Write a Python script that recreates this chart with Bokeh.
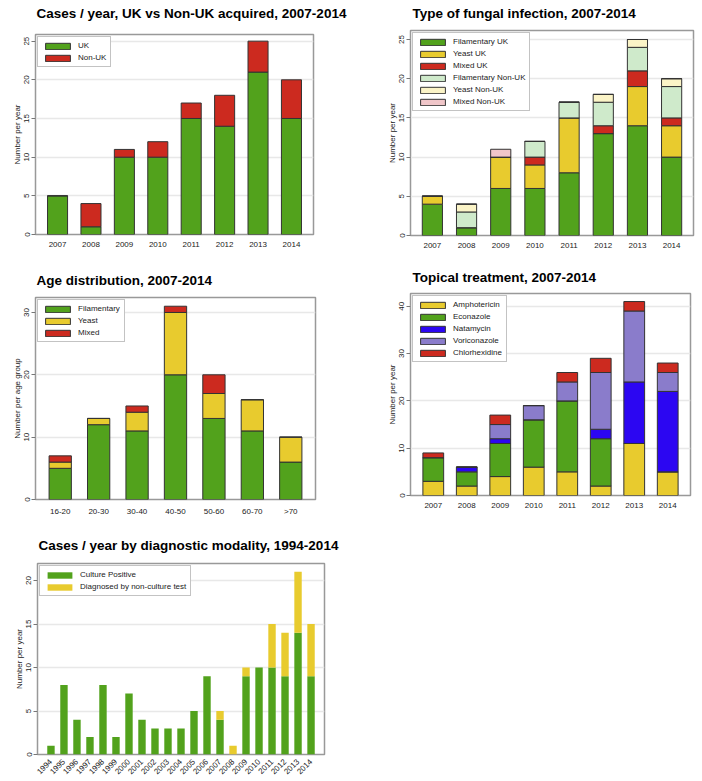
import math
from bokeh.plotting import figure
from bokeh.models import ColumnDataSource, FactorRange, Range1d, SingleIntervalTicker, Title
from bokeh.layouts import column, row
from bokeh.embed import file_html
from bokeh.resources import INLINE

FONT = "Liberation Sans"

# ---------------- data ----------------
years = ["2007", "2008", "2009", "2010", "2011", "2012", "2013", "2014"]

# Panel 1: UK vs Non-UK acquired
uk = [5, 1, 10, 10, 15, 14, 21, 15]
non_uk = [0, 3, 1, 2, 2, 4, 4, 5]

# Panel 2: type of fungal infection
fil_uk = [4, 1, 6, 6, 8, 13, 14, 10]
yeast_uk = [1, 0, 4, 3, 7, 0, 5, 4]
mixed_uk = [0, 0, 0, 1, 0, 1, 2, 1]
fil_non = [0, 2, 0, 2, 2, 3, 3, 4]
yeast_non = [0, 1, 0, 0, 0, 1, 1, 1]
mixed_non = [0, 0, 1, 0, 0, 0, 0, 0]

# Panel 3: age distribution
age_groups = ["16-20", "20-30", "30-40", "40-50", "50-60", "60-70", ">70"]
age_fil = [5, 12, 11, 20, 13, 11, 6]
age_yeast = [1, 1, 3, 10, 4, 5, 4]
age_mixed = [1, 0, 1, 1, 3, 0, 0]

# Panel 4: topical treatment
ampho = [3, 2, 4, 6, 5, 2, 11, 5]
econ = [5, 3, 7, 10, 15, 10, 0, 0]
natam = [0, 1, 1, 0, 0, 2, 13, 17]
vori = [0, 0, 3, 3, 4, 12, 15, 4]
chlor = [1, 0, 2, 0, 2, 3, 2, 2]

# Panel 5: diagnostic modality
years_long = [str(y) for y in range(1994, 2015)]
culture_pos = [1, 8, 4, 2, 8, 2, 7, 4, 3, 3, 3, 5, 9, 4, 0, 9, 10, 10, 9, 14, 9]
non_culture = [0, 0, 0, 0, 0, 0, 0, 0, 0, 0, 0, 0, 0, 1, 1, 1, 0, 5, 5, 7, 6]

# ---------------- colours ----------------
GREEN = "#52a21c"
RED = "#cc2a1f"
YELLOW = "#e8cb2e"
LGREEN = "#cfeacb"
LYELLOW = "#fbf4c7"
PINK = "#f0c6c9"
BLUE = "#2c06f2"
PURPLE = "#8a7ccb"
EDGE = "#333333"


def make_fig(title, factors, ymax, interval, fw, fh, borders, ylabel, pad, gap, offset):
    l, r, t, b = borders
    p = figure(frame_width=fw, frame_height=fh, title=title,
               x_range=FactorRange(*factors, range_padding=pad),
               y_range=Range1d(0, ymax),
               output_backend="svg", toolbar_location=None,
               min_border_left=l, min_border_right=r,
               min_border_top=t, min_border_bottom=b,
               background_fill_color="white", border_fill_color="white")
    # thin spacer between the frame and the title
    p.add_layout(Title(text=" ", text_font_size="1px", standoff=gap), "above")
    p.title.text_font = FONT
    p.title.text_font_size = "13.5px"
    p.title.text_font_style = "bold"
    p.title.text_color = "black"
    p.title.align = "left"
    p.title.vertical_align = "top"
    p.title.standoff = 0
    p.title.offset = offset

    p.outline_line_color = "#999999"
    p.outline_line_width = 1.5

    p.xgrid.grid_line_color = None
    p.ygrid.grid_line_color = "#e8e8e8"
    p.ygrid.grid_line_width = 1.5

    p.yaxis.ticker = SingleIntervalTicker(interval=interval, num_minor_ticks=0)
    p.yaxis.major_label_orientation = "vertical"
    p.yaxis.axis_line_color = None
    p.yaxis.minor_tick_line_color = None
    p.yaxis.major_tick_out = 4
    p.yaxis.major_tick_in = 0
    p.yaxis.major_tick_line_color = "#777777"
    p.yaxis.major_label_standoff = 2
    p.yaxis.major_label_text_font = FONT
    p.yaxis.major_label_text_font_size = "8px"
    p.yaxis.major_label_text_color = "#222222"
    p.yaxis.axis_label = ylabel
    p.yaxis.axis_label_text_font = FONT
    p.yaxis.axis_label_text_font_size = "8px"
    p.yaxis.axis_label_text_font_style = "normal"
    p.yaxis.axis_label_text_color = "#222222"
    p.yaxis.axis_label_standoff = 0

    p.xaxis.axis_line_color = None
    p.xaxis.major_tick_line_color = None
    p.xaxis.minor_tick_line_color = None
    p.xaxis.major_label_standoff = 1
    p.xaxis.major_label_text_font = FONT
    p.xaxis.major_label_text_font_size = "8px"
    p.xaxis.major_label_text_color = "#222222"
    return p


def style_legend(p):
    lg = p.legend[0]
    lg.location = "top_left"
    lg.margin = 2
    lg.padding = 4
    lg.spacing = 3
    lg.glyph_width = 31
    lg.glyph_height = 8
    lg.label_height = 8
    lg.label_standoff = 5
    lg.label_text_font = FONT
    lg.label_text_font_size = "8px"
    lg.label_text_color = "#222222"
    lg.border_line_color = "#888888"
    lg.border_line_width = 1
    lg.background_fill_color = "white"
    lg.background_fill_alpha = 1


# ---------------- panel 1 ----------------
src1 = ColumnDataSource(dict(x=years, uk=uk, non_uk=non_uk))
p1 = make_fig("Cases / year, UK vs Non-UK acquired, 2007-2014", years, 25.86, 5,
              278, 200, (35, 37, 34, 26), "Number per year", 0.04, 9, 1)
p1.vbar_stack(["uk", "non_uk"], x="x", width=0.6, source=src1,
              fill_color=[GREEN, RED], line_color=EDGE, line_width=1,
              legend_label=["UK", "Non-UK"])
style_legend(p1)

# ---------------- panel 2 ----------------
src2 = ColumnDataSource(dict(x=years, a=fil_uk, b=yeast_uk, c=mixed_uk,
                             d=fil_non, e=yeast_non, f=mixed_non))
p2 = make_fig("Type of fungal infection, 2007-2014", years, 26.15, 5,
              283, 205, (60, 9, 30, 25), "Number per year", 0.035, 5, 2)
p2.vbar_stack(["a", "b", "c", "d", "e", "f"], x="x", width=0.59, source=src2,
              fill_color=[GREEN, YELLOW, RED, LGREEN, LYELLOW, PINK],
              line_color=EDGE, line_width=1,
              legend_label=["Filamentary UK", "Yeast UK", "Mixed UK",
                            "Filamentary Non-UK", "Yeast Non-UK", "Mixed Non-UK"])
style_legend(p2)

# ---------------- panel 3 ----------------
src3 = ColumnDataSource(dict(x=age_groups, a=age_fil, b=age_yeast, c=age_mixed))
p3 = make_fig("Age distribution, 2007-2014", age_groups, 32.4, 10,
              280, 202, (35, 35, 37, 18), "Number per age group", 0.041, 5, 1)
p3.vbar_stack(["a", "b", "c"], x="x", width=0.58, source=src3,
              fill_color=[GREEN, YELLOW, RED], line_color=EDGE, line_width=1,
              legend_label=["Filamentary", "Yeast", "Mixed"])
style_legend(p3)

# ---------------- panel 4 ----------------
src4 = ColumnDataSource(dict(x=years, a=ampho, b=econ, c=natam, d=vori, e=chlor))
p4 = make_fig("Topical treatment, 2007-2014", years, 42.7, 10,
              280, 202, (60, 12, 33, 22), "Number per year", 0.045, 4, 2)
p4.vbar_stack(["a", "b", "c", "d", "e"], x="x", width=0.62, source=src4,
              fill_color=[YELLOW, GREEN, BLUE, PURPLE, RED],
              line_color=EDGE, line_width=1,
              legend_label=["Amphotericin", "Econazole", "Natamycin",
                            "Voriconazole", "Chlorhexidine"])
style_legend(p4)

# ---------------- panel 5 ----------------
src5 = ColumnDataSource(dict(x=years_long, a=culture_pos, b=non_culture))
p5 = make_fig("Cases / year by diagnostic modality, 1994-2014", years_long, 21.96, 5,
              287, 191, (37, 26, 45, 24), "Number per year", 0.051, 6, 1)
p5.vbar_stack(["a", "b"], x="x", width=0.57, source=src5,
              fill_color=[GREEN, YELLOW], line_color=None,
              legend_label=["Culture Positive", "Diagnosed by non-culture test"])
p5.xaxis.major_label_orientation = math.pi / 4
p5.xaxis.major_label_standoff = 0
style_legend(p5)

layout = column(row(column(p1), column(p2)),
                row(column(p3), column(p4)),
                row(p5))

open("out.html", "w").write(file_html(layout, INLINE))
